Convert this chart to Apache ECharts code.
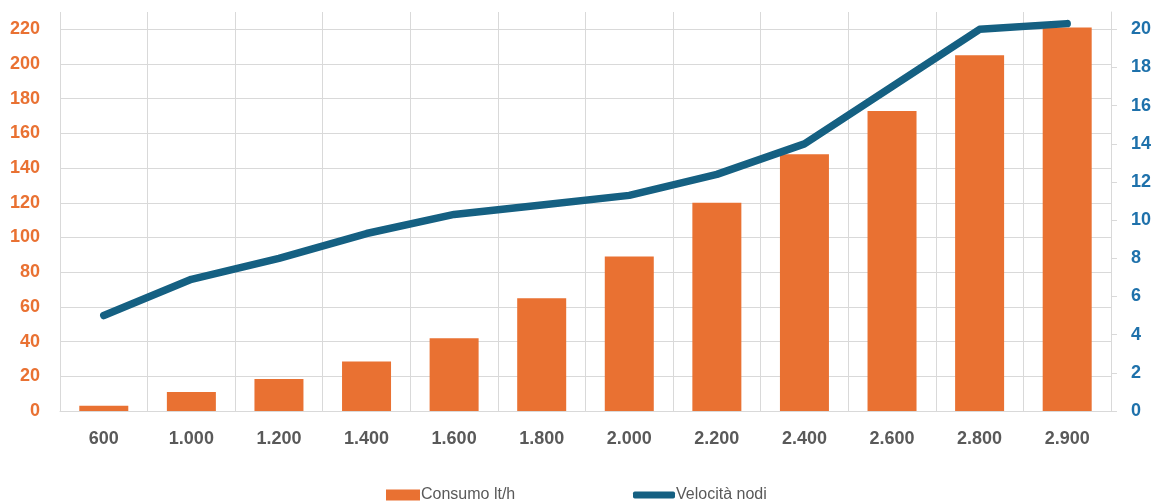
<!DOCTYPE html>
<html>
<head>
<meta charset="utf-8">
<script src="https://cdn.jsdelivr.net/npm/echarts@6/dist/echarts.min.js"></script>
<style>
  html, body { margin: 0; padding: 0; background: #fff; }
  #chart { width: 1154px; height: 504px; }
</style>
</head>
<body>
<div id="chart"></div>
<script>
const categories = ['600', '1.000', '1.200', '1.400', '1.600', '1.800', '2.000', '2.200', '2.400', '2.600', '2.800', '2.900']
const consumo = [3, 11, 18.5, 28.5, 42, 65, 89, 120, 148, 173, 205, 221]
const velocita = [5, 6.9, 8, 9.3, 10.3, 10.8, 11.3, 12.4, 14, 17, 20, 20.3]

const orange = '#E97132'
const navy = '#156082'
const gridGray = '#D9D9D9'
const font = 'Liberation Sans, Arial, sans-serif'

const chart = echarts.init(document.getElementById('chart'))
chart.setOption({
  animation: false,
  textStyle: { fontFamily: font },
  grid: { left: 60, right: 41, top: 12, bottom: 93 },
  legend: [
    {
      left: 386, top: 487, padding: 0,
      itemWidth: 34, itemHeight: 11,
      icon: 'rect',
      data: ['Consumo lt/h'],
      textStyle: { color: '#595959', fontSize: 16, fontFamily: font, padding: [0, 0, 0, -4] }
    },
    {
      left: 633, top: 487, padding: 0,
      itemWidth: 42, itemHeight: 7,
      icon: 'roundRect',
      data: ['Velocità nodi'],
      textStyle: { color: '#595959', fontSize: 16, fontFamily: font, padding: [0, 0, 0, -4] }
    }
  ],
  xAxis: {
    type: 'category',
    data: categories,
    boundaryGap: true,
    axisLine: { lineStyle: { color: gridGray } },
    axisTick: { show: false },
    splitLine: { show: true, lineStyle: { color: gridGray } },
    axisLabel: { color: '#595959', fontWeight: 'bold', fontSize: 18, margin: 19 }
  },
  yAxis: [
    {
      type: 'value',
      min: 0, max: 230, interval: 20,
      axisLine: { show: false },
      axisTick: { show: false },
      splitLine: { show: true, showMaxLine: false, lineStyle: { color: gridGray } },
      axisLabel: { color: orange, fontWeight: 'bold', fontSize: 18, margin: 20, showMaxLabel: false }
    },
    {
      type: 'value',
      min: 0, max: 230 / 11, interval: 2,
      position: 'right',
      axisLine: { show: true, lineStyle: { color: gridGray } },
      axisTick: { show: true, length: 6, lineStyle: { color: gridGray } },
      splitLine: { show: false },
      axisLabel: { color: '#1E71AB', fontWeight: 'bold', fontSize: 18, margin: 20, showMaxLabel: false }
    }
  ],
  series: [
    {
      name: 'Consumo lt/h',
      type: 'bar',
      yAxisIndex: 0,
      barWidth: 49,
      itemStyle: { color: orange },
      data: consumo
    },
    {
      name: 'Velocità nodi',
      type: 'line',
      yAxisIndex: 1,
      symbol: 'none',
      lineStyle: { color: navy, width: 7.5, cap: 'round', join: 'round' },
      itemStyle: { color: navy },
      data: velocita
    }
  ]
})
</script>
</body>
</html>
